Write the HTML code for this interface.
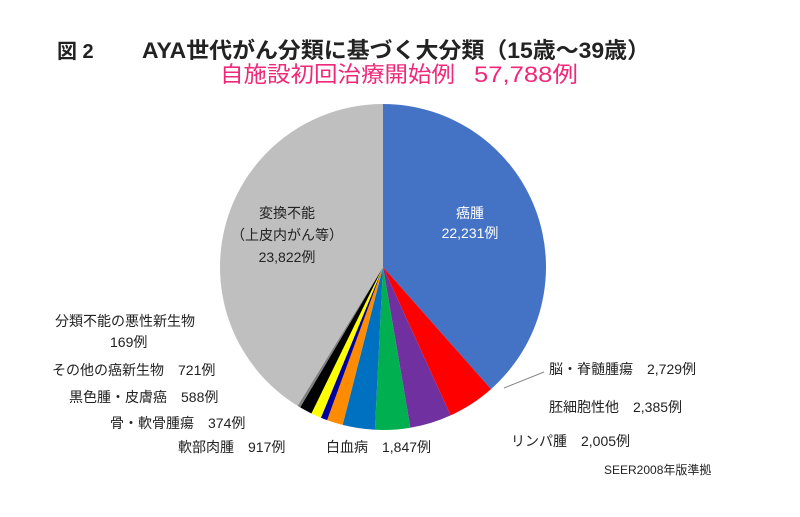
<!DOCTYPE html>
<html><head><meta charset="utf-8"><style>
body{margin:0;background:#fff;width:800px;height:512px;overflow:hidden}
svg{font-family:"Liberation Sans","Noto Sans CJK JP",sans-serif}
</style></head><body>
<svg id="s" width="800" height="512" viewBox="0 0 800 512">
<g id="pie"></g>
<text x="57" y="58" font-size="20" font-weight="bold" fill="#222">図 2</text>
<text x="142" y="58" font-size="22" font-weight="bold" fill="#222" textLength="508" lengthAdjust="spacingAndGlyphs">AYA世代がん分類に基づく大分類（15歳～39歳）</text>
<text x="220" y="82" font-size="22" fill="#f0287a" textLength="235" lengthAdjust="spacingAndGlyphs">自施設初回治療開始例</text>
<text x="474" y="82" font-size="22" fill="#f0287a" textLength="104" lengthAdjust="spacingAndGlyphs">57,788例</text>
<g font-size="14" fill="#fff" text-anchor="middle">
<text x="470" y="218">癌腫</text><text x="470" y="238">22,231例</text></g>
<g font-size="14" fill="#222" text-anchor="middle">
<text x="287" y="218">変換不能</text><text x="287" y="240">（上皮内がん等）</text><text x="287" y="262">23,822例</text></g>
<g font-size="14" fill="#222">
<text x="55" y="326">分類不能の悪性新生物</text>
<text x="110" y="347">169例</text>
<text x="52" y="375">その他の癌新生物　721例</text>
<text x="69" y="402">黒色腫・皮膚癌　588例</text>
<text x="110" y="428">骨・軟骨腫瘍　374例</text>
<text x="178" y="452">軟部肉腫　917例</text>
<text x="326" y="452">白血病　1,847例</text>
<text x="511" y="446">リンパ腫　2,005例</text>
<text x="549" y="412">胚細胞性他　2,385例</text>
<text x="549" y="374">脳・脊髄腫瘍　2,729例</text>
<text x="604" y="474" font-size="12">SEER2008年版準拠</text>
</g>
<line x1="544" y1="372" x2="504" y2="388" stroke="#888" stroke-width="1"/>
</svg>
<script>
var d=[[22231,"#4472c4"],[2729,"#ff0000"],[2385,"#7030a0"],[2005,"#00b050"],[1847,"#0070c0"],[917,"#ff8c00"],[374,"#0000a0"],[588,"#ffff00"],[721,"#000000"],[169,"#808080"],[23822,"#bfbfbf"]];
var T=57788,cx=383,cy=267,r=163,a=0,g=document.getElementById("pie"),h="";
d.forEach(function(e){var b=a+e[0]/T*2*Math.PI;
var x1=cx+r*Math.sin(a),y1=cy-r*Math.cos(a),x2=cx+r*Math.sin(b),y2=cy-r*Math.cos(b);
h+='<path d="M'+cx+','+cy+'L'+x1+','+y1+'A'+r+','+r+' 0 '+(b-a>Math.PI?1:0)+' 1 '+x2+','+y2+'Z" fill="'+e[1]+'"/>';a=b;});
g.innerHTML=h;
</script>
</body></html>
